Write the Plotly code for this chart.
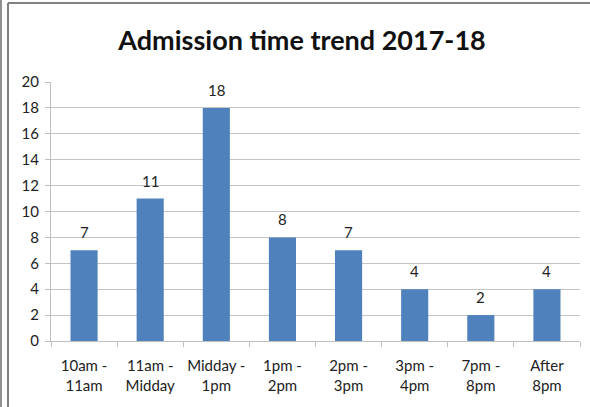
import plotly.graph_objects as go

categories = ["10am -<br>11am", "11am -<br>Midday", "Midday -<br>1pm", "1pm -<br>2pm",
              "2pm -<br>3pm", "3pm -<br>4pm", "7pm -<br>8pm", "After<br>8pm"]
values = [7, 11, 18, 8, 7, 4, 2, 4]
y_ticks = [0, 2, 4, 6, 8, 10, 12, 14, 16, 18, 20]

W, H = 590, 407
L, R, T, B = 51, 10, 82, 66
pw, ph = W - L - R, H - T - B

def px(x):
    return (x - L) / pw

def py(y):
    return (H - B - y) / ph

font = "Lato, 'Open Sans', sans-serif"

fig = go.Figure(go.Bar(
    x=categories, y=values,
    marker=dict(color="#4F81BD", line=dict(width=0)),
))

for c, v in zip(categories, values):
    fig.add_annotation(x=c, y=v, text=str(v), showarrow=False, yanchor="bottom",
                       yshift=7, font=dict(family=font, size=15, color="#222"))

fig.update_layout(
    width=W, height=H,
    margin=dict(l=L, r=R, t=T, b=B, autoexpand=False),
    paper_bgcolor="white", plot_bgcolor="white",
    bargap=0.59,
    showlegend=False,
    title=dict(text="<b>Admission time trend 2017-18</b>", x=302 / W, xanchor="center",
               y=1 - 41 / H, yanchor="middle",
               font=dict(family=font, size=27, color="#111")),
    xaxis=dict(
        type="category", tickson="boundaries", ticks="outside", ticklen=5,
        tickcolor="#bfbfbf", showline=True, linecolor="#bfbfbf", linewidth=1,
        showgrid=False, tickfont=dict(family=font, size=15, color="#222"),
        tickangle=0, automargin=False, ticklabelstandoff=11,
    ),
    yaxis=dict(
        range=[0, 20], tickvals=y_ticks, ticks="outside", ticklen=5,
        tickcolor="#bfbfbf", showline=True, linecolor="#bfbfbf", linewidth=1,
        showgrid=True, gridcolor="#c4c4c4", gridwidth=1, zeroline=False,
        tickfont=dict(family=font, size=15, color="#222"),
        automargin=False, ticklabelstandoff=3,
    ),
    shapes=[
        dict(type="line", xref="paper", yref="paper", x0=px(8), x1=px(590), y0=py(3), y1=py(3),
             line=dict(color="#808080", width=2)),
        dict(type="line", xref="paper", yref="paper", x0=px(8), x1=px(8), y0=py(3), y1=py(407),
             line=dict(color="#808080", width=2)),
        dict(type="line", xref="paper", yref="paper", x0=px(1), x1=px(1), y0=py(0), y1=py(407),
             line=dict(color="#909090", width=2)),
    ],
)

fig.write_html("out.html")
